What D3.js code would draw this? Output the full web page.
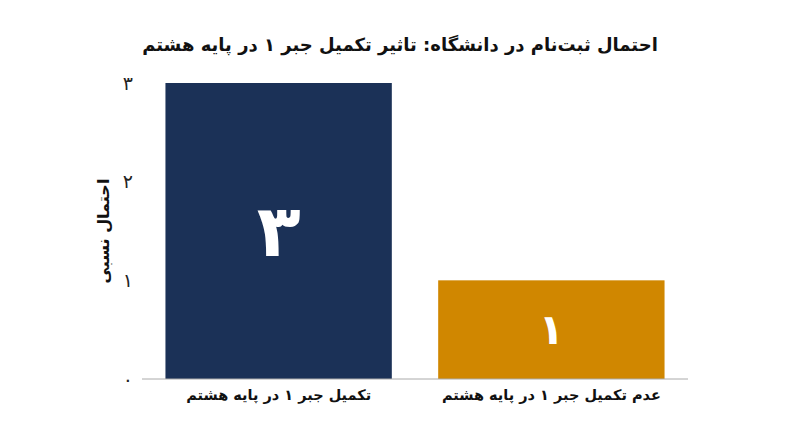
<!DOCTYPE html>
<html>
<head>
<meta charset="utf-8">
<script src="https://cdn.jsdelivr.net/npm/d3@7"></script>
<style>
body { margin: 0; background: #fff; }
svg { font-family: "DejaVu Sans", sans-serif; }
</style>
</head>
<body>
<svg></svg>
<script>
var categories = ['تکمیل جبر ۱ در پایه هشتم', 'عدم تکمیل جبر ۱ در پایه هشتم'];
var values = [3, 1];
var valueLabels = ['۳', '۱'];
var colors = ['#1b3157', '#d08700'];
var tickValues = [0, 1, 2, 3];
var tickLabels = ['۰', '۱', '۲', '۳'];

function start() {
    var width = 800, height = 447;
    var svg = d3.select('svg')
        .attr('width', width)
        .attr('height', height);

    var x = d3.scaleBand()
        .domain(categories)
        .range([142, 688])
        .paddingInner(0.17)
        .paddingOuter(0.086);

    var y = d3.scaleLinear()
        .domain([0, 3])
        .range([379, 83]);

    // title
    svg.append('text')
        .attr('x', width / 2)
        .attr('y', 51)
        .attr('text-anchor', 'middle')
        .attr('direction', 'rtl')
        .style('font-size', '18px')
        .style('font-weight', 'bold')
        .style('fill', '#111')
        .text('احتمال ثبت‌نام در دانشگاه: تاثیر تکمیل جبر ۱ در پایه هشتم');

    // bars
    svg.append('g').selectAll('rect')
        .data(values)
        .enter().append('rect')
        .attr('x', function (d, i) { return x(categories[i]); })
        .attr('y', function (d) { return y(d); })
        .attr('width', x.bandwidth())
        .attr('height', function (d) { return y(0) - y(d); })
        .style('fill', function (d, i) { return colors[i]; });

    // value labels inside bars
    svg.append('g').selectAll('text')
        .data(values)
        .enter().append('text')
        .attr('x', function (d, i) { return x(categories[i]) + x.bandwidth() / 2; })
        .attr('y', function (d) { return (y(d) + y(0)) / 2; })
        .attr('text-anchor', 'middle')
        .attr('dominant-baseline', 'central')
        .style('fill', '#fff')
        .style('font-weight', 'bold')
        .style('font-size', function (d, i) { return i === 0 ? '72px' : '42px'; })
        .text(function (d, i) { return valueLabels[i]; });

    // baseline
    svg.append('line')
        .attr('x1', 142).attr('x2', 688)
        .attr('y1', y(0)).attr('y2', y(0))
        .style('stroke', '#aaa')
        .style('stroke-width', 1);

    // y axis (labels only)
    var yAxis = d3.axisLeft(y)
        .tickValues(tickValues)
        .tickSize(0)
        .tickPadding(0)
        .tickFormat(function (d, i) { return tickLabels[i]; });
    var gy = svg.append('g')
        .attr('transform', 'translate(133,0)')
        .call(yAxis);
    gy.select('.domain').remove();
    gy.selectAll('text')
        .style('font-family', '"DejaVu Sans", sans-serif')
        .style('font-size', '19px')
        .style('fill', '#222');

    // x axis labels
    var xAxis = d3.axisBottom(x).tickSize(0).tickPadding(0);
    var gx = svg.append('g')
        .attr('transform', 'translate(0,' + (y(0) + 11) + ')')
        .call(xAxis);
    gx.select('.domain').remove();
    gx.selectAll('text')
        .attr('direction', 'rtl')
        .style('font-family', '"DejaVu Sans", sans-serif')
        .style('font-size', '14.5px')
        .style('font-weight', 'bold')
        .style('fill', '#111');

    // y axis title
    svg.append('text')
        .attr('transform', 'translate(103,' + y(1.5) + ') rotate(-90)')
        .attr('text-anchor', 'middle')
        .attr('dominant-baseline', 'central')
        .attr('direction', 'rtl')
        .style('font-size', '16px')
        .style('font-weight', 'bold')
        .style('fill', '#111')
        .text('احتمال نسبی');
}

start();
</script>
</body>
</html>
